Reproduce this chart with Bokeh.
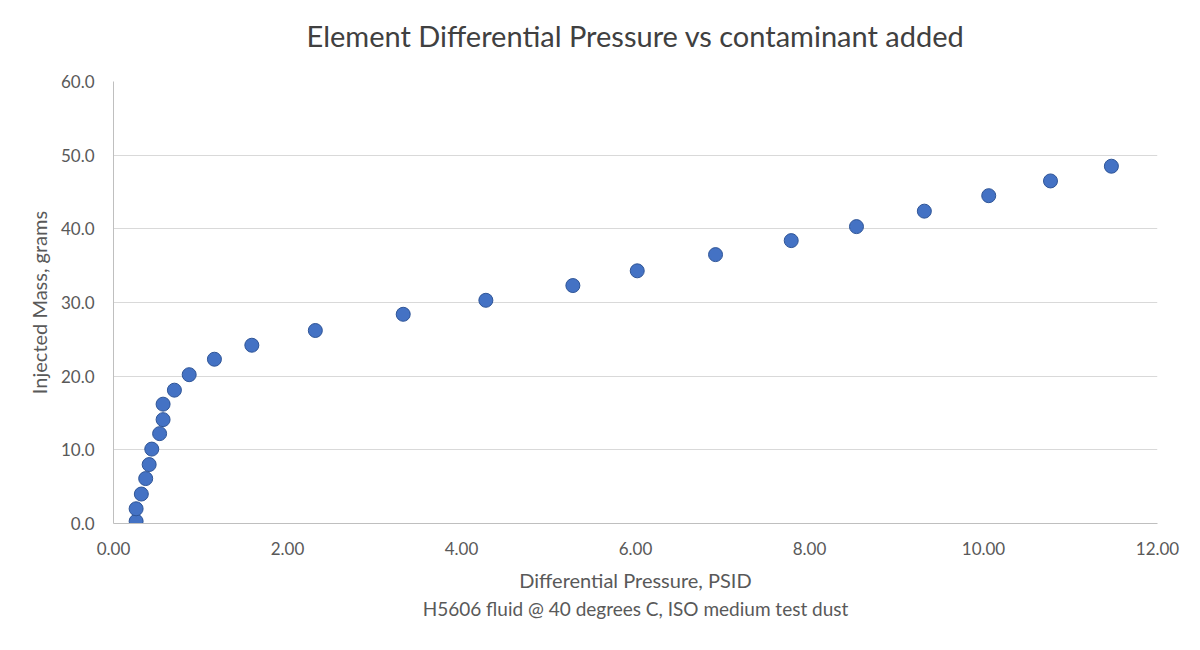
from bokeh.plotting import figure
from bokeh.models import Range1d, FixedTicker, NumeralTickFormatter, Title
from bokeh.embed import file_html
from bokeh.resources import INLINE

pressure = [0.26, 0.26, 0.32, 0.37, 0.41, 0.44, 0.53, 0.57, 0.57, 0.70, 0.87,
            1.16, 1.59, 2.32, 3.33, 4.28, 5.28, 6.02, 6.92, 7.79, 8.54, 9.32,
            10.06, 10.77, 11.47]
mass = [0.3, 2.0, 4.0, 6.1, 8.0, 10.1, 12.2, 14.1, 16.2, 18.1, 20.2,
        22.3, 24.2, 26.2, 28.4, 30.3, 32.3, 34.3, 36.5, 38.4, 40.3, 42.4,
        44.5, 46.5, 48.5]
x_ticks = [0, 2, 4, 6, 8, 10, 12]
y_ticks = [0, 10, 20, 30, 40, 50, 60]
title_text = "Element Differential Pressure vs contaminant added"

FONT = "Lato"

p = figure(width=1184, height=634, output_backend="svg", toolbar_location=None,
           x_range=Range1d(0, 12), y_range=Range1d(0, 60),
           min_border_left=113, min_border_right=27, min_border_top=81,
           min_border_bottom=111)

# spacer (nearest the frame), then the chart title above it
spacer = Title(text=" ", text_font_size="1px", standoff=7)
p.add_layout(spacer, "above")
main_title = Title(text=title_text, align="center", vertical_align="top",
                   text_font=FONT, text_font_size="29px", text_font_style="normal",
                   text_color="#404040", standoff=34)
p.add_layout(main_title, "above")

p.scatter(pressure, mass, size=14, fill_color="#4472C4", line_color="#2F5597",
          line_width=1)

p.xaxis.ticker = FixedTicker(ticks=x_ticks)
p.yaxis.ticker = FixedTicker(ticks=y_ticks)
p.xaxis.formatter = NumeralTickFormatter(format="0.00")
p.yaxis.formatter = NumeralTickFormatter(format="0.0")

for ax in (p.xaxis, p.yaxis):
    ax.major_tick_line_color = None
    ax.minor_tick_line_color = None
    ax.axis_line_color = "#BFBFBF"
    ax.axis_line_width = 1
    ax.major_label_text_font = FONT
    ax.major_label_text_font_size = "17px"
    ax.major_label_text_color = "#595959"
    ax.axis_label_text_font = FONT
    ax.axis_label_text_font_size = "20px"
    ax.axis_label_text_font_style = "normal"
    ax.axis_label_text_color = "#595959"

p.xaxis.axis_label = "Differential Pressure, PSID"
p.yaxis.axis_label = "Injected Mass, grams"
p.xaxis.major_label_standoff = 12
p.yaxis.major_label_standoff = 13
p.xaxis.axis_label_standoff = 10
p.yaxis.axis_label_standoff = 7

sub = Title(text="H5606 fluid @ 40 degrees C, ISO medium test dust", align="center",
            text_font=FONT, text_font_size="19px", text_font_style="normal",
            text_color="#595959", standoff=0)
p.add_layout(sub, "below")

p.xgrid.grid_line_color = None
p.ygrid.grid_line_color = "#D9D9D9"
p.ygrid.grid_line_width = 1
p.outline_line_color = None
p.background_fill_color = "white"
p.border_fill_color = "white"

open("out.html", "w").write(file_html(p, INLINE))
